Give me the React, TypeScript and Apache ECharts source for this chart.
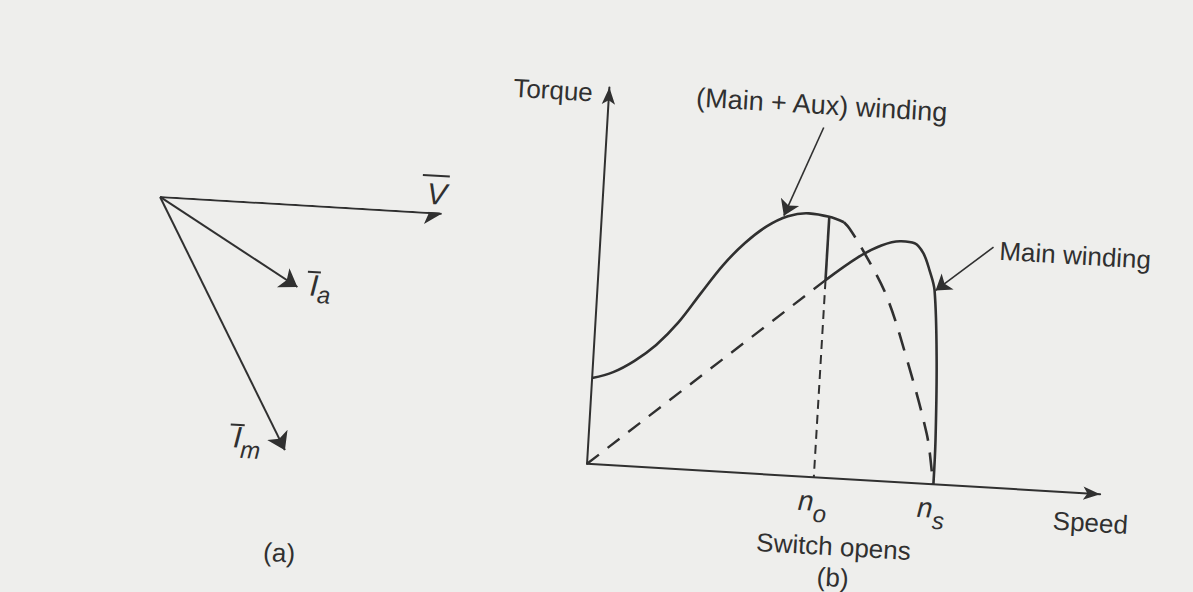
import React, { useEffect, useRef } from 'react';
import * as echarts from 'echarts';

// ---- (b) torque–speed characteristic, both axes in % of the drawn axis span ----
// (Main + Aux) winding, from standstill up to just past the switch-out speed
const mainAuxSpeed = [0, 4, 8, 12, 16, 20, 24, 28, 32, 36, 40, 44, 46.9];
const mainAuxTorque = [22.6, 24.5, 27.8, 32.3, 38.5, 46.5, 54.3, 60.5, 65.2, 68.2, 69.3, 68.7, 67.5];

// (Main + Aux) winding if the switch stayed closed (dashed)
const mainAuxOnSpeed = [46.9, 48, 50.9, 55.9, 60.5, 65.3, 66.7, 67];
const mainAuxOnTorque = [67.5, 66, 60.4, 49, 33, 13.3, 3.7, 0];

// Main winding alone below the switch speed (dashed)
const mainStartSpeed = [0, 44];
const mainStartTorque = [0, 52];

// Main winding alone after the switch opens (solid)
const mainRunSpeed = [44, 50, 54.4, 58.2, 60.8, 62.6, 64, 65.2, 66.4, 67.1, 67.2];
const mainRunTorque = [52, 58.5, 62, 63.4, 63.1, 60.6, 56.2, 51, 32.7, 11.7, 0];

// Speeds marked on the speed axis
const switchSpeed = 44; // n_o
const syncSpeed = 67; // n_s
const speedTickNames = ['o', 's'];

// Torque jump when the auxiliary winding is cut out
const switchDropTorque = [68.7, 52];

// Leader arrows for the curve names: [tailSpeed, tailTorque, tipSpeed, tipTorque]
const mainAuxPointer = [41.9, 92.1, 35.2, 68.3];
const mainPointer = [76.1, 63.3, 65.4, 51];

// ---- (a) phasor diagram, per unit of |V| ----
const phasorNames = ['V', 'Ia', 'Im'];
const phasorRe = [1.0, 0.505, 0.495];
const phasorIm = [0, -0.29, -0.87];

const ink = '#303030';
const font = '"Liberation Sans", Arial, Helvetica, sans-serif';

const zip = (xs: number[], ys: number[]) => xs.map((x, i) => [x, ys[i]]);

function label(text: string, x: number, y: number, size = 26, italic = false) {
  return {
    type: 'text',
    x,
    y,
    silent: true,
    style: {
      text,
      fill: ink,
      font: `${italic ? 'italic ' : ''}${size}px ${font}`,
      align: 'center',
      verticalAlign: 'middle',
      textAlign: 'center',
      textVerticalAlign: 'middle',
    },
  };
}

function bar(x1: number, x2: number, y: number) {
  return {
    type: 'line',
    silent: true,
    shape: { x1, y1: y, x2, y2: y },
    style: { stroke: ink, lineWidth: 2 },
  };
}

function buildOption() {
  const base = {
    type: 'line',
    xAxisIndex: 0,
    yAxisIndex: 0,
    showSymbol: false,
    symbol: 'none',
    silent: true,
  };
  return {
    animation: false,
    backgroundColor: 'transparent',
    grid: [
      { left: 597, top: 87, width: 514, height: 377 },
      { left: 155, top: 223, width: 282, height: 282 },
    ],
    xAxis: [
      {
        gridIndex: 0,
        type: 'value',
        min: 0,
        max: 99.55,
        axisLine: {
          show: true,
          symbol: ['none', 'arrow'],
          symbolSize: [10, 17],
          lineStyle: { color: ink, width: 2 },
        },
        axisTick: { show: false },
        splitLine: { show: false },
        axisLabel: {
          show: true,
          customValues: [switchSpeed, syncSpeed],
          margin: 0,
          formatter: (v: number) =>
            `{n|n}{s|${v === switchSpeed ? speedTickNames[0] : speedTickNames[1]}}`,
          rich: {
            n: { fontSize: 28, fontStyle: 'italic', fontFamily: font, color: ink },
            s: {
              fontSize: 24,
              fontStyle: 'italic',
              fontFamily: font,
              color: ink,
              lineHeight: 48,
              verticalAlign: 'bottom',
            },
          },
        },
      },
      { gridIndex: 1, type: 'value', min: 0, max: 1, show: false },
    ],
    yAxis: [
      {
        gridIndex: 0,
        type: 'value',
        min: 0,
        max: 99.3,
        axisLine: {
          show: true,
          onZero: false,
          symbol: ['none', 'arrow'],
          symbolSize: [10, 17],
          lineStyle: { color: ink, width: 2 },
        },
        axisTick: { show: false },
        axisLabel: { show: false },
        splitLine: { show: false },
      },
      { gridIndex: 1, type: 'value', min: -1, max: 0, show: false },
    ],
    series: [
      {
        ...base,
        name: '(Main + Aux) winding',
        smooth: 0.35,
        data: zip(mainAuxSpeed, mainAuxTorque),
        lineStyle: { color: ink, width: 2.6 },
      },
      {
        ...base,
        name: 'Switch opens',
        data: zip([switchSpeed, switchSpeed], switchDropTorque),
        lineStyle: { color: ink, width: 2.6 },
      },
      {
        ...base,
        name: 'Main winding',
        smooth: 0.35,
        data: zip(mainRunSpeed, mainRunTorque),
        lineStyle: { color: ink, width: 2.6 },
      },
      {
        ...base,
        name: 'Main winding (start)',
        data: zip(mainStartSpeed, mainStartTorque),
        lineStyle: { color: ink, width: 2.4, type: [15, 11] },
      },
      {
        ...base,
        name: '(Main + Aux) winding, switch closed',
        smooth: 0.35,
        data: zip(mainAuxOnSpeed, mainAuxOnTorque),
        lineStyle: { color: ink, width: 2.6, type: [19, 12] },
      },
      {
        ...base,
        name: 'n_o',
        data: zip([switchSpeed, switchSpeed], [switchDropTorque[1], 0]),
        lineStyle: { color: ink, width: 2, type: [9, 6] },
      },
      {
        type: 'lines',
        coordinateSystem: 'cartesian2d',
        xAxisIndex: 0,
        yAxisIndex: 0,
        silent: true,
        symbol: ['none', 'arrow'],
        symbolSize: [9, 15],
        lineStyle: { color: ink, width: 1.6, opacity: 1 },
        data: [mainAuxPointer, mainPointer].map((p) => ({
          coords: [
            [p[0], p[1]],
            [p[2], p[3]],
          ],
        })),
      },
      {
        type: 'lines',
        coordinateSystem: 'cartesian2d',
        xAxisIndex: 1,
        yAxisIndex: 1,
        silent: true,
        symbol: ['none', 'arrow'],
        symbolSize: [10, 17],
        lineStyle: { color: ink, width: 2, opacity: 1 },
        data: phasorNames.map((name, i) => ({
          name,
          coords: [
            [0, 0],
            [phasorRe[i], phasorIm[i]],
          ],
        })),
      },
    ],
    graphic: [
      label('Torque', 541, 93),
      label('(Main + Aux) winding', 810, 92, 27),
      label('Main winding', 1072, 227),
      label('Speed', 1103, 493),
      label('Switch opens', 848, 532),
      label('(b)', 849, 563),
      label('(a)', 295, 571),
      // phasor names with overbars
      label('V', 431, 203.5, 30, true),
      bar(416, 443, 185.5),
      label('I', 314, 302, 30, true),
      label('a', 324, 311, 24, true),
      bar(307, 320, 289),
      label('I', 246.5, 458, 30, true),
      label('m', 260, 470, 24, true),
      bar(239, 253, 446),
    ],
  };
}

export default function App() {
  const ref = useRef<HTMLDivElement>(null);
  useEffect(() => {
    const el = ref.current;
    if (!el) return;
    const chart = echarts.init(el, undefined, { renderer: 'svg' });
    chart.setOption(buildOption() as any);
    return () => chart.dispose();
  }, []);
  return (
    <div
      style={{
        position: 'fixed',
        left: 0,
        top: 0,
        width: 1193,
        height: 592,
        overflow: 'hidden',
        background: '#eeeeec',
      }}
    >
      <div
        ref={ref}
        style={{
          width: 1193,
          height: 592,
          transform: 'rotate(3.4deg)',
          transformOrigin: '50% 50%',
        }}
      />
    </div>
  );
}
